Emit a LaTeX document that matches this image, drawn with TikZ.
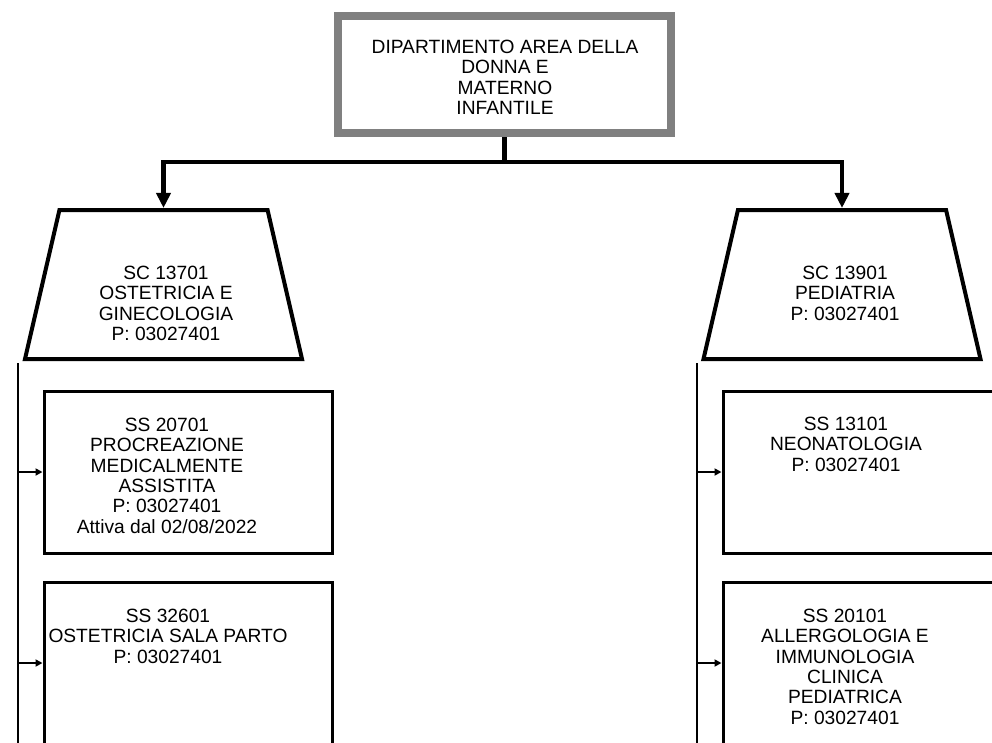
\documentclass[tikz,border=0pt]{standalone}
\usepackage{fontspec}
\setmainfont{Liberation Sans}
\usetikzlibrary{shapes.geometric,arrows.meta}
\begin{document}
\begin{tikzpicture}[x=1pt,y=-1pt,
  lbl/.style={inner sep=0pt, align=center, anchor=north, font=\fontsize{19.2}{20.3}\selectfont},
  deptbox/.style={draw=gray, line width=8pt, fill=white, minimum width=333pt, minimum height=117pt, inner sep=0pt},
  unitbox/.style={trapezium, trapezium stretches=true, trapezium left angle=80.6, trapezium right angle=80.6,
    draw, line width=4pt, minimum width=277pt, minimum height=149pt, inner sep=2pt},
  subbox/.style={draw, line width=3pt, minimum width=288pt, minimum height=162pt, inner sep=0pt},
  mainlink/.style={line width=4.5pt, -{Triangle[length=15pt,width=14pt]}},
  sidelink/.style={line width=2pt, -{Triangle[length=7pt,width=7pt]}},
  spine/.style={line width=2pt}
]
\clip (0,0) rectangle (992,742);

% department
\node[deptbox] (dept) at (504.5,74.5) {};
\node[lbl] (deptlbl) at (505,40) {DIPARTIMENTO AREA DELLA\\DONNA E\\MATERNO\\INFANTILE};

% complex units
\node[unitbox] (unitL) at (163.5,284.5) {};
\node[unitbox] (unitR) at (842,284.5) {};
\node[lbl] (unitLlbl) at (166,266) {SC 13701\\OSTETRICIA E\\GINECOLOGIA\\P: 03027401};
\node[lbl] (unitRlbl) at (845,266) {SC 13901\\PEDIATRIA\\P: 03027401};

% simple units
\node[subbox] (subL1) at (188,472) {};
\node[subbox] (subL2) at (188,663) {};
\node[subbox] (subR1) at (867,472) {};
\node[subbox] (subR2) at (867,663) {};
\node[lbl] (subL1lbl) at (167,418) {SS 20701\\PROCREAZIONE\\MEDICALMENTE\\ASSISTITA\\P: 03027401\\Attiva dal 02/08/2022};
\node[lbl] (subL2lbl) at (168,609) {SS 32601\\OSTETRICIA SALA PARTO\\P: 03027401};
\node[lbl] (subR1lbl) at (846,417) {SS 13101\\NEONATOLOGIA\\P: 03027401};
\node[lbl] (subR2lbl) at (845,609) {SS 20101\\ALLERGOLOGIA E\\IMMUNOLOGIA\\CLINICA\\PEDIATRICA\\P: 03027401};

% department to units
\coordinate (bar) at (505,162);
\draw[mainlink] (dept.south) -- (dept.south |- bar) -| (unitL.north);
\draw[mainlink] (dept.south |- bar) -| (unitR.north);

% units to sub-units
\coordinate (spineL) at (18,363);
\coordinate (spineLend) at (18,750);
\coordinate (spineR) at (697,363);
\coordinate (spineRend) at (697,750);
\draw[spine] (spineL) -- (spineLend);
\draw[spine] (spineR) -- (spineRend);
\draw[sidelink] (spineL) |- (subL1.west);
\draw[sidelink] (spineL) |- (subL2.west);
\draw[sidelink] (spineR) |- (subR1.west);
\draw[sidelink] (spineR) |- (subR2.west);
\end{tikzpicture}
\end{document}
